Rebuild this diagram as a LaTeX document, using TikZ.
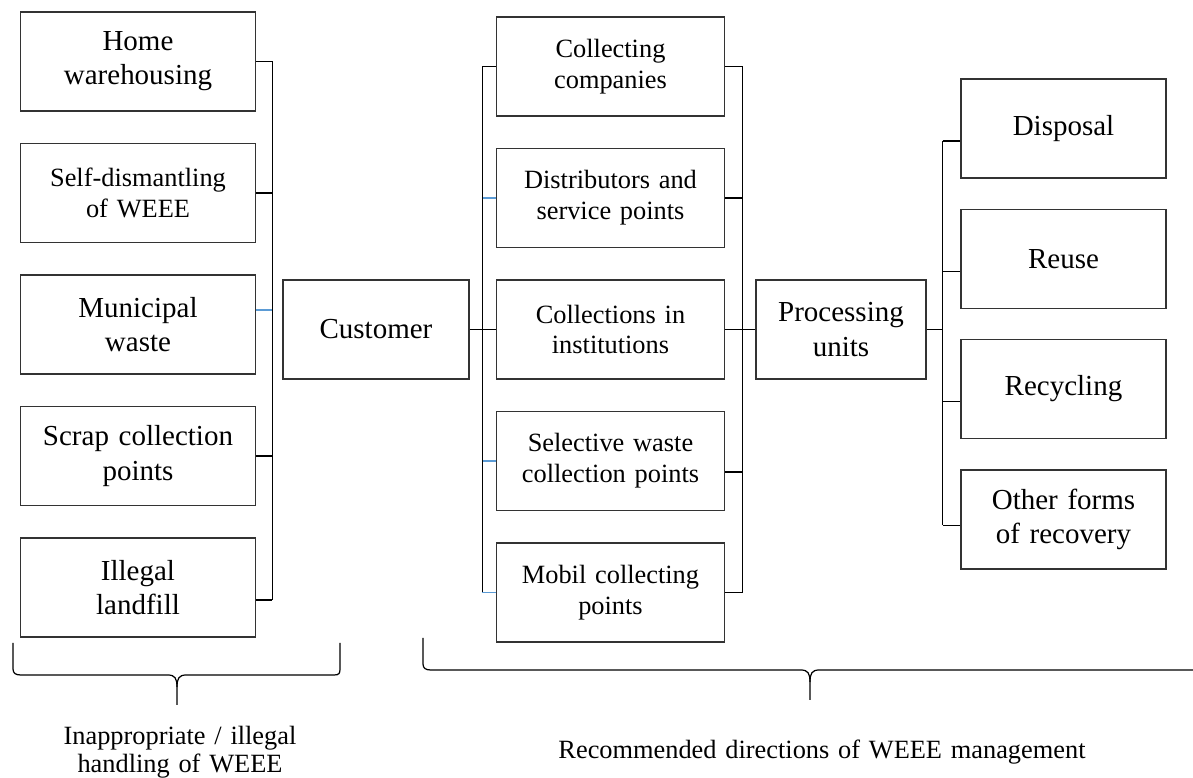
\documentclass[tikz,border=0pt]{standalone}
\usepackage{fontspec}
\setmainfont{Liberation Serif}
\usepackage{tikz}
\definecolor{tickblue}{RGB}{91,155,213}
\newcommand{\boxfont}{\fontsize{16.5}{19.5}\selectfont}
\newcommand{\subfont}{\fontsize{15}{17.6}\selectfont}
\newcommand{\notefont}{\fontsize{15}{16.2}\selectfont}
\tikzstyle{virtualnode} =
[inner sep = 0pt, minimum width = 0cm, minimum height = 0cm, draw = none]
\tikzstyle{rootbox} =
[rectangle, minimum width = 3.72cm, minimum height = 1.98cm, inner sep = 1mm,
text centered, text width = 3.52cm, draw=black!80, line width = 0.8pt, font = \boxfont]
\tikzstyle{leftbox} =
[rectangle, minimum width = 4.7cm, minimum height = 1.98cm, inner sep = 1mm,
text centered, text width = 4.5cm, draw=black!80, line width = 0.8pt, font = \boxfont]
\tikzstyle{collect} =
[rectangle, minimum width = 4.56cm, minimum height = 1.98cm, inner sep = 1mm,
text centered, text width = 4.36cm, draw=black!80, line width = 0.8pt, font = \subfont]
\tikzstyle{process} =
[rectangle, minimum width = 3.4cm, minimum height = 1.98cm, inner sep = 1mm,
text centered, text width = 3.2cm, draw=black!80, line width = 0.8pt, font = \boxfont]
\tikzstyle{outcome} =
[rectangle, minimum width = 4.1cm, minimum height = 1.98cm, inner sep = 1mm,
text centered, text width = 3.9cm, draw=black!80, line width = 0.8pt, font = \boxfont]
\tikzstyle{labeltext} =
[rectangle, inner sep = 0pt, text centered, text width = 11cm, font = \notefont]
\tikzstyle{line} = [draw, line width = 0.7pt]
\tikzstyle{bracket} = [draw, line width = 0.7pt]

\begin{document}
\begin{tikzpicture}[node distance = 2.63cm, auto]
  \useasboundingbox (-7.52,6.59) rectangle (16.34,-8.97);
  % root node
  \node [rootbox] (customer) {Customer};
  %
  % left nodes
  \node [leftbox, left of=customer, node distance=4.76cm, yshift=0.1cm] (municipal)
   {Municipal\\ waste};
  \node [leftbox, font=\subfont, above of=municipal] (selfdis)
   {Self-dismantling\\ of WEEE};
  \node [leftbox, above of=selfdis] (home) {Home\\ warehousing};
  \node [leftbox, below of=municipal] (scrap) {Scrap collection\\ points};
  \node [leftbox, below of=scrap] (landfill) {Illegal\\ landfill};
  % left edges
  \coordinate (busL) at ([xshift=-0.2cm]customer.west);
  \coordinate (municipalT) at ([yshift=0.29cm]municipal.east);
  \coordinate (landfillT) at ([yshift=-0.25cm]landfill.east);
  \path [line] (home.east) -- (home.east -| busL);
  \path [line] (selfdis.east) -- (selfdis.east -| busL);
  \path [line, tickblue] (municipalT) -- (municipalT -| busL);
  \path [line] (scrap.east) -- (scrap.east -| busL);
  \path [line] (landfillT) -- (landfillT -| busL);
  \path [line] (home.east -| busL) -- (landfillT -| busL);
  %
  % middle nodes
  \node [collect, right of=customer, node distance=4.69cm] (institutions)
   {Collections in\\ institutions};
  \node [collect, above of=institutions] (distributors)
   {Distributors and\\ service points};
  \node [collect, above of=distributors] (companies) {Collecting\\ companies};
  \node [collect, below of=institutions] (selective)
   {Selective waste\\ collection points};
  \node [collect, below of=selective] (mobil) {Mobil collecting\\ points};
  % middle edges
  \coordinate (busM) at ([xshift=-0.27cm]institutions.west);
  \coordinate (busN) at ([xshift=0.35cm]institutions.east);
  \coordinate (selectiveT) at ([yshift=-0.22cm]selective.east);
  \path [line] (customer) -- (institutions);
  \path [line] (busM |- companies.west) -- (companies.west);
  \path [line, tickblue] (busM |- distributors.west) -- (distributors.west);
  \path [line, tickblue] (busM |- selective.west) -- (selective.west);
  \path [line, tickblue] (busM |- mobil.west) -- (mobil.west);
  \path [line] (busM |- companies.west) -- (busM |- mobil.west);
  \path [line] (companies.east) -- (companies.east -| busN);
  \path [line] (distributors.east) -- (distributors.east -| busN);
  \path [line] (selectiveT) -- (selectiveT -| busN);
  \path [line] (mobil.east) -- (mobil.east -| busN);
  \path [line] (companies.east -| busN) -- (mobil.east -| busN);
  %
  % right nodes
  \node [process, right of=institutions, node distance=4.61cm] (processing)
   {Processing\\ units};
  \node [virtualnode, right of=processing, node distance=4.45cm, yshift=0.11cm]
   (vnproc) {};
  \node [outcome, above of=vnproc, node distance=1.3cm] (reuse) {Reuse};
  \node [outcome, above of=reuse, node distance=2.61cm] (disposal) {Disposal};
  \node [outcome, below of=vnproc, node distance=1.3cm] (recycling) {Recycling};
  \node [outcome, below of=recycling, node distance=2.61cm] (recovery)
   {Other forms\\ of recovery};
  % right edges
  \coordinate (busR) at ([xshift=0.32cm]processing.east);
  \coordinate (disposalT) at ([yshift=-0.25cm]disposal.west);
  \coordinate (reuseT) at ([yshift=-0.25cm]reuse.west);
  \coordinate (recyclingT) at ([yshift=-0.25cm]recycling.west);
  \coordinate (recoveryT) at ([yshift=-0.12cm]recovery.west);
  \path [line] (institutions) -- (processing);
  \path [line] (processing.east) -- (busR);
  \path [line] (busR |- disposalT) -- (disposalT);
  \path [line] (busR |- reuseT) -- (reuseT);
  \path [line] (busR |- recyclingT) -- (recyclingT);
  \path [line] (busR |- recoveryT) -- (recoveryT);
  \path [line] (busR |- disposalT) -- (busR |- recoveryT);
  %
  % braces and notes
  \draw [bracket] (-7.26,-6.27) -- (-7.26,-6.79)
   .. controls (-7.26,-6.88) and (-7.20,-6.91) .. (-7.10,-6.91) -- (-4.16,-6.91)
   .. controls (-4.02,-6.91) and (-3.98,-6.98) .. (-3.98,-7.15) -- (-3.98,-7.51);
  \draw [bracket] (-3.98,-7.15)
   .. controls (-3.98,-6.98) and (-3.94,-6.91) .. (-3.80,-6.91) -- (-0.84,-6.91)
   .. controls (-0.74,-6.91) and (-0.72,-6.88) .. (-0.72,-6.79) -- (-0.72,-6.27);
  \draw [bracket] (0.94,-6.17) -- (0.94,-6.69)
   .. controls (0.94,-6.78) and (1.00,-6.81) .. (1.10,-6.81) -- (8.50,-6.81)
   .. controls (8.64,-6.81) and (8.68,-6.88) .. (8.68,-7.05) -- (8.68,-7.41);
  \draw [bracket] (8.68,-7.05)
   .. controls (8.68,-6.88) and (8.72,-6.81) .. (8.86,-6.81) -- (16.40,-6.81);
  \node [labeltext, text width=5cm] (illegalnote) at (-3.92,-8.45)
   {Inappropriate / illegal\\ handling of WEEE};
  \node [labeltext] (recommendnote) at (8.92,-8.45)
   {Recommended directions of WEEE management};
\end{tikzpicture}
\end{document}
